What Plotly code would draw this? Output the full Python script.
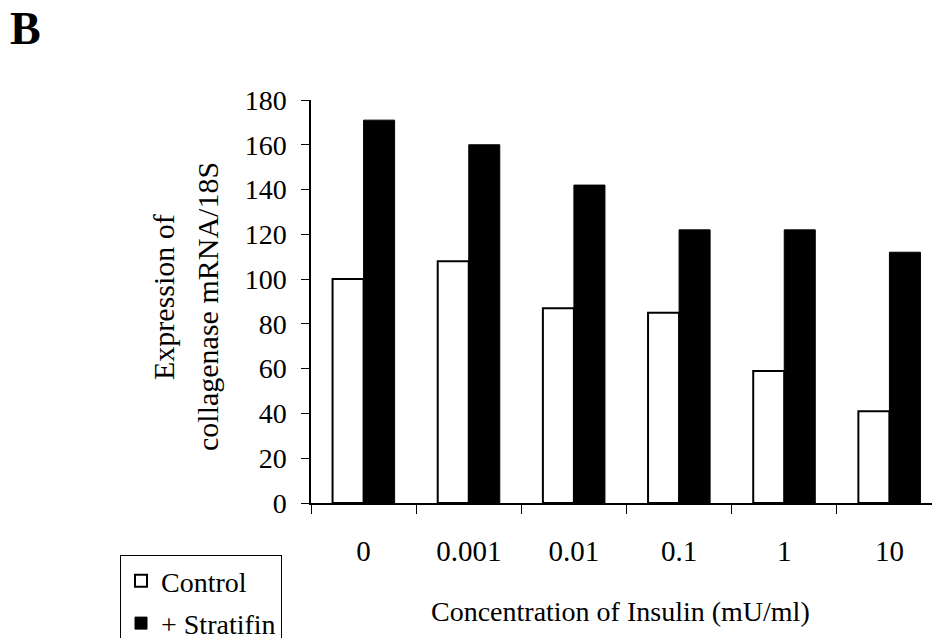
import plotly.graph_objects as go

categories = ["0", "0.001", "0.01", "0.1", "1", "10"]
control = [100, 108, 87, 85, 59, 41]
stratifin = [171, 160, 142, 122, 122, 112]
y_ticks = [0, 20, 40, 60, 80, 100, 120, 140, 160, 180]

FONT = "Liberation Serif, Times New Roman, serif"

fig = go.Figure()
fig.add_trace(go.Bar(
    x=categories, y=control, name="Control", legendgroup="a",
    marker=dict(color="white", line=dict(color="black", width=2)),
))
fig.add_trace(go.Bar(
    x=categories, y=stratifin, name="+ Stratifin", legendgroup="b",
    marker=dict(color="black", line=dict(color="black", width=1)),
))

W, H = 932, 638
L, T = 311, 100
B = H - 503
fig.update_layout(
    width=W, height=H,
    margin=dict(l=L, r=0, t=T, b=B, autoexpand=False),
    paper_bgcolor="white", plot_bgcolor="white",
    barmode="group", bargap=0.41, bargroupgap=0.0,
    font=dict(family=FONT, color="black", size=28),
    showlegend=True,
    legend=dict(
        x=(120 - L) / (W - L), y=(H - B - 555) / (H - B - T),
        xanchor="left", yanchor="top",
        bordercolor="black", borderwidth=1, bgcolor="white",
        font=dict(family=FONT, size=28, color="black"),
        tracegroupgap=3, itemwidth=30,
    ),
)
fig.update_xaxes(
    type="category", range=[-0.5, 5.405],
    showline=True, linecolor="black", linewidth=1.5,
    ticks="outside", ticklen=9, tickcolor="black", tickwidth=1,
    tickson="boundaries", showgrid=False, zeroline=False,
    tickfont=dict(family=FONT, size=29), ticklabelstandoff=21,
)
fig.update_yaxes(
    range=[0, 180], tickvals=y_ticks,
    showline=True, linecolor="black", linewidth=1.5,
    ticks="outside", ticklen=8, tickcolor="black", tickwidth=1,
    showgrid=False, zeroline=False,
    tickfont=dict(family=FONT, size=28), ticklabelstandoff=9,
)

annos = [
    dict(text="<b>B</b>", x=25, y=H - 28, size=46, angle=0),
    dict(text="Expression of", x=163, y=H - 297, size=30, angle=-90),
    dict(text="collagenase mRNA/18S", x=207, y=H - 307, size=30, angle=-90),
    dict(text="Concentration of Insulin (mU/ml)", x=620, y=H - 611, size=28, angle=0),
]
for a in annos:
    fig.add_annotation(
        text=a["text"],
        x=(a["x"] - L) / (W - L), y=(a["y"] - B) / (H - B - T),
        xref="paper", yref="paper",
        showarrow=False, textangle=a["angle"],
        font=dict(family=FONT, color="black", size=a["size"]),
        xanchor="center", yanchor="middle",
    )

fig.write_html("out.html")
